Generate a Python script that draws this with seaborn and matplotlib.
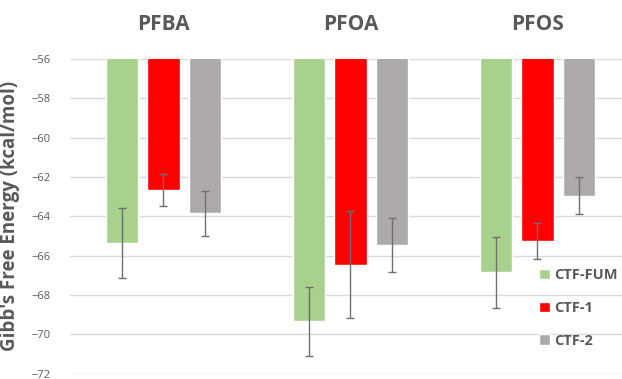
import pandas as pd
import numpy as np
import seaborn as sns
import matplotlib.pyplot as plt

# values
molecules = ['PFBA', 'PFOA', 'PFOS']
frameworks = ['CTF-FUM', 'CTF-1', 'CTF-2']
ctf_fum = [-65.37, -69.35, -66.86]
ctf_1 = [-62.67, -66.46, -65.27]
ctf_2 = [-63.85, -65.45, -62.95]
err_fum = [1.77, 1.76, 1.80]
err_1 = [0.81, 2.72, 0.93]
err_2 = [1.16, 1.38, 0.93]
colors = ['#A9D18E', '#FF0000', '#AEAAAA']

df = pd.DataFrame({
    'molecule': molecules * 3,
    'framework': [f for f in frameworks for _ in molecules],
    'energy': ctf_fum + ctf_1 + ctf_2,
    'err': err_fum + err_1 + err_2,
})

sns.set_style('white')
plt.rcParams['font.family'] = ['Open Sans', 'DejaVu Sans']

fig = plt.figure(figsize=(6.22, 3.79), dpi=100)
ax = fig.add_axes([70 / 622, 1 - 373.5 / 379, 552 / 622, 314.5 / 379])

sns.barplot(data=df, x='molecule', y='energy', hue='framework',
            order=molecules, hue_order=frameworks, palette=colors,
            errorbar=None, width=0.665, gap=0.22, saturation=1, ax=ax)

# error bars placed at the bar centres
for i, fw in enumerate(frameworks):
    cont = ax.containers[i]
    sub = df[df.framework == fw].set_index('molecule').loc[molecules]
    xs = [p.get_x() + p.get_width() / 2 for p in cont.patches]
    ax.errorbar(xs, sub['energy'], yerr=sub['err'], fmt='none',
                ecolor='#707070', elinewidth=1, capsize=3, capthick=1, zorder=5)

ax.set_ylim(-72, -56)
ax.set_yticks(np.arange(-72, -55, 2))
ax.set_xlim(-0.5, 2.452)
ax.yaxis.grid(True, color='#d9d9d9', lw=1)
ax.set_axisbelow(True)
for s in ax.spines.values():
    s.set_visible(False)

ax.xaxis.tick_top()
ax.tick_params(axis='x', length=0, pad=17, labelsize=15, labelcolor='#595959')
for t in ax.get_xticklabels():
    t.set_fontweight('bold')
ax.tick_params(axis='y', length=0, pad=14, labelsize=8, labelcolor='#595959')
ax.set_xlabel('')
ax.set_ylabel("Gibb's Free Energy (kcal/mol)", fontsize=13.5, fontweight='bold',
              color='#595959', labelpad=8)

handles, labels = ax.get_legend_handles_labels()
leg = ax.legend(handles, labels, loc='upper left', frameon=False,
                bbox_to_anchor=(539 / 622, 1 - 268 / 379),
                bbox_transform=fig.transFigure, borderpad=0, borderaxespad=0,
                handlelength=0.75, handleheight=0.75, handletextpad=0.3,
                labelspacing=1.3, prop={'size': 10.5, 'weight': 'bold'})
for t in leg.get_texts():
    t.set_color('#595959')

fig.savefig('out.png', dpi=100)
